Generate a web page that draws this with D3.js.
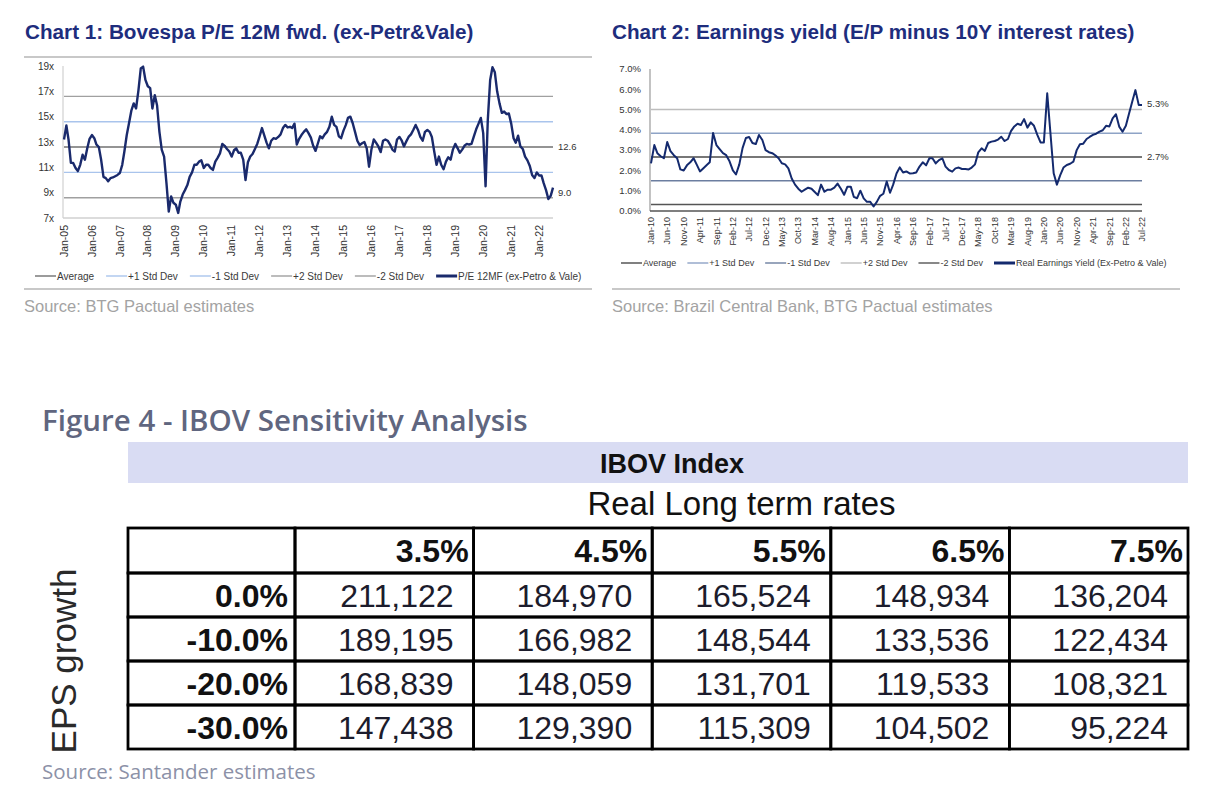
<!DOCTYPE html>
<html>
<head>
<meta charset="utf-8">
<script src="https://cdn.jsdelivr.net/npm/d3@7"></script>
<style>
  body { margin: 0; background: #fff; }
  text { font-family: Arial, "Liberation Sans", sans-serif; }
</style>
</head>
<body>
<svg id="chart" width="1230" height="800"></svg>
<script>
// ---- Chart 1: Bovespa P/E 12M fwd, monthly from Jan-05 ----
const peStart = '2005-01';
const peValues = [
  13.2, 14.3, 13.2, 11.35, 11.35, 10.95, 10.7, 11.2, 12.0, 11.6,
  12.5, 13.25, 13.55, 13.3, 12.8, 12.6, 11.6, 10.25, 10.15, 9.9,
  10.15, 10.2, 10.3, 10.4, 10.55, 11.2, 12.25, 13.55, 14.5, 15.5,
  16.05, 15.65, 17.1, 18.8, 18.95, 17.9, 17.4, 17.25, 15.65, 16.7,
  15.9, 13.8, 12.4, 11.85, 9.75, 7.5, 8.7, 8.2, 8.05, 7.4,
  8.3, 8.85, 9.2, 9.6, 10.25, 10.6, 11.2, 11.2, 11.45, 11.55,
  10.95, 11.2, 11.2, 10.95, 10.8, 11.45, 11.75, 12.1, 12.85, 12.7,
  12.45, 12.25, 11.85, 12.35, 12.5, 12.15, 12.15, 11.6, 10.0, 11.4,
  11.85, 12.05, 12.45, 12.85, 13.45, 14.1, 13.55, 12.95, 12.5, 13.1,
  13.3, 13.25, 13.4, 13.6, 14.1, 14.35, 14.15, 14.2, 14.1, 14.45,
  12.8, 13.25, 13.55, 13.8, 14.0, 13.7, 13.35, 12.7, 12.3, 12.9,
  13.45, 13.3, 13.6, 13.8, 14.2, 15.0, 14.35, 14.2, 13.45, 13.3,
  13.9, 14.35, 14.9, 15.0, 14.5, 13.8, 13.1, 12.75, 12.9, 13.0,
  12.5, 11.05, 12.4, 13.2, 12.95, 12.65, 12.2, 13.1, 13.2, 13.1,
  12.8, 12.4, 12.25, 13.2, 13.4, 13.1, 12.65, 13.05, 13.4, 13.6,
  13.95, 14.35, 13.95, 13.4, 13.1, 13.8, 13.95, 13.8, 13.4, 12.25,
  11.2, 11.85, 11.2, 10.85, 11.45, 11.8, 11.6, 12.4, 12.85, 12.5,
  12.15, 12.4, 12.7, 12.85, 12.8, 12.85, 13.45, 14.0, 14.45, 14.9,
  13.7, 9.5, 14.75, 17.9, 18.9, 18.5, 17.0, 16.05, 15.3, 15.4,
  15.2, 15.25, 14.45, 13.3, 12.95, 13.5, 12.65, 12.45, 11.85, 11.55,
  11.1, 10.4, 10.15, 10.6, 10.35, 10.35, 9.75, 9.2, 8.5, 8.75,
  9.4
];
const peAvg = 12.6;
const peStd = 2.0;
const peTicks = [7, 9, 11, 13, 15, 17, 19];
const peXLabels = ['Jan-05', 'Jan-06', 'Jan-07', 'Jan-08', 'Jan-09', 'Jan-10', 'Jan-11', 'Jan-12',
  'Jan-13', 'Jan-14', 'Jan-15', 'Jan-16', 'Jan-17', 'Jan-18', 'Jan-19', 'Jan-20', 'Jan-21', 'Jan-22'];
const peEndLabels = [['12.6', 12.6], ['9.0', 9.0]];
const peLegend = ['Average', '+1 Std Dev', '-1 Std Dev', '+2 Std Dev', '-2 Std Dev', 'P/E 12MF (ex-Petro & Vale)'];

// ---- Chart 2: real earnings yield, monthly from Jan-10 ----
const eyStart = '2010-01';
const eyValues = [
  2.35, 3.25, 2.85, 2.7, 2.6, 3.4, 2.95, 2.75, 2.6, 2.05,
  2.0, 2.25, 2.4, 2.6, 2.3, 1.95, 2.1, 2.25, 2.4, 3.85,
  3.25, 3.05, 2.85, 2.75, 2.45, 2.0, 1.8, 2.3, 3.1, 3.6,
  3.65, 3.35, 3.3, 3.75, 3.5, 3.0, 2.9, 2.85, 2.75, 2.6,
  2.35, 2.3, 2.1, 1.6, 1.3, 1.1, 0.95, 1.05, 1.15, 1.1,
  0.95, 0.78, 1.3, 0.95, 1.05, 1.05, 1.15, 1.35, 1.1, 0.8,
  1.2, 1.2, 0.7, 0.63, 1.0, 0.62, 0.45, 0.45, 0.22, 0.45,
  0.75, 0.85, 1.45, 0.9, 1.3, 1.85, 2.15, 1.9, 1.95, 1.85,
  1.86, 1.9, 2.19, 2.4, 2.25, 2.6, 2.6, 2.35, 2.51, 2.6,
  2.19, 2.02, 1.94, 2.1, 2.14, 2.07, 2.07, 2.05, 2.14, 2.3,
  2.89, 3.09, 2.96, 3.35, 3.42, 3.45, 3.52, 3.66, 3.45, 3.55,
  3.94, 4.17, 4.3, 4.24, 4.53, 4.11, 4.37, 4.2, 3.75, 3.38,
  3.38, 5.8, 3.9, 1.86, 1.3, 1.77, 2.14, 2.27, 2.33, 2.43,
  3.0, 3.29, 3.32, 3.55, 3.65, 3.75, 3.81, 3.91, 3.98, 4.2,
  4.17, 4.57, 4.77, 4.16, 3.91, 4.2, 4.77, 5.39, 5.96, 5.22,
  5.22
];
const eyAvg = 2.66;
const eyStd = 1.17;
const eyTicks = [0, 1, 2, 3, 4, 5, 6, 7];
const eyXLabels = ['Jan-10', 'Jun-10', 'Nov-10', 'Apr-11', 'Sep-11', 'Feb-12', 'Jul-12', 'Dec-12',
  'May-13', 'Oct-13', 'Mar-14', 'Aug-14', 'Jan-15', 'Jun-15', 'Nov-15', 'Apr-16', 'Sep-16', 'Feb-17',
  'Jul-17', 'Dec-17', 'May-18', 'Oct-18', 'Mar-19', 'Aug-19', 'Jan-20', 'Jun-20', 'Nov-20', 'Apr-21',
  'Sep-21', 'Feb-22', 'Jul-22'];
const eyEndLabels = [['5.3%', 5.3], ['2.7%', 2.66]];
const eyLegend = ['Average', '+1 Std Dev', '-1 Std Dev', '+2 Std Dev', '-2 Std Dev', 'Real Earnings Yield (Ex-Petro & Vale)'];

// ---- Figure 4: IBOV sensitivity table ----
const rateCols = ['3.5%', '4.5%', '5.5%', '6.5%', '7.5%'];
const epsRows = ['0.0%', '-10.0%', '-20.0%', '-30.0%'];
const ibovValues = [
  [211122, 184970, 165524, 148934, 136204],
  [189195, 166982, 148544, 133536, 122434],
  [168839, 148059, 131701, 119533, 108321],
  [147438, 129390, 115309, 104502, 95224]
];

const svg = d3.select('#chart');
const parseMonth = d3.timeParse('%Y-%m');
const parseLabel = d3.timeParse('%b-%y');
const navy = '#1e2d7d';

function monthly(start, values) {
  const d0 = parseMonth(start);
  return values.map((v, i) => ({ date: d3.timeMonth.offset(d0, i), v: v }));
}

function legend(g, items, x0, y, fs, gap) {
  let x = x0;
  items.forEach(it => {
    g.append('line')
      .attr('x1', x).attr('x2', x + 21).attr('y1', y).attr('y2', y)
      .attr('stroke', it.color).attr('stroke-width', it.w);
    const t = g.append('text')
      .attr('x', x + 22).attr('y', y).attr('dy', '0.35em')
      .style('font-size', fs + 'px').style('fill', '#3a3a3a')
      .text(it.label);
    x += 22 + t.node().getComputedTextLength() + gap;
  });
}

function lineChart(o) {
  const g = svg.append('g');
  const data = monthly(o.start, o.values);
  const x = d3.scaleTime().domain(d3.extent(data, d => d.date)).range(o.xr);
  const y = d3.scaleLinear().domain(o.yd).range(o.yr);

  g.append('text')
    .attr('x', o.titleX).attr('y', 39)
    .style('font-size', '20.7px').style('font-weight', 'bold').style('fill', navy)
    .text(o.title);

  // axis lines
  g.append('line')
    .attr('x1', o.xr[0] - 1).attr('x2', o.xr[0] - 1)
    .attr('y1', y(o.yd[1])).attr('y2', y(o.yd[0]))
    .attr('stroke', o.axisColor).attr('stroke-width', 1.2);
  g.append('line')
    .attr('x1', o.xr[0] - 1).attr('x2', o.xr[1])
    .attr('y1', y(o.yd[0])).attr('y2', y(o.yd[0]))
    .attr('stroke', o.baseColor).attr('stroke-width', 1.4);

  // y ticks
  g.selectAll('.yt').data(o.ticks).join('text')
    .attr('x', o.xr[0] - 10).attr('y', d => y(d)).attr('dy', '0.35em')
    .attr('text-anchor', 'end')
    .style('font-size', o.tickFs + 'px').style('fill', '#333')
    .text(o.tickFmt);

  // average and std dev bands
  const bands = [
    { v: o.avg + 2 * o.std, c: o.colors.p2 },
    { v: o.avg + o.std, c: o.colors.p1 },
    { v: o.avg, c: o.colors.avg },
    { v: o.avg - o.std, c: o.colors.m1 },
    { v: o.avg - 2 * o.std, c: o.colors.m2 }
  ];
  g.selectAll('.band').data(bands).join('line')
    .attr('x1', o.xr[0]).attr('x2', o.xr[1])
    .attr('y1', d => y(d.v)).attr('y2', d => y(d.v))
    .attr('stroke', d => d.c).attr('stroke-width', 1.4);

  // x labels
  g.selectAll('.xl').data(o.xLabels).join('text')
    .attr('transform', d => `translate(${x(parseLabel(d))},${o.xLabelTop}) rotate(-90)`)
    .attr('dy', '0.35em').attr('text-anchor', 'end')
    .style('font-size', o.xFs + 'px').style('fill', '#333')
    .text(d => d);

  // series
  g.append('path').datum(data)
    .attr('fill', 'none').attr('stroke', o.lineColor)
    .attr('stroke-width', o.lineW).attr('stroke-linejoin', 'round')
    .attr('d', d3.line().x(d => x(d.date)).y(d => y(d.v)));

  // end labels
  g.selectAll('.el').data(o.endLabels).join('text')
    .attr('x', o.xr[1] + 5).attr('y', d => y(d[1])).attr('dy', '0.35em')
    .style('font-size', '9.5px').style('fill', '#333')
    .text(d => d[0]);

  legend(g, [
    { label: o.legend[0], color: o.colors.avg, w: 1.4 },
    { label: o.legend[1], color: o.colors.p1, w: 1.4 },
    { label: o.legend[2], color: o.colors.m1, w: 1.4 },
    { label: o.legend[3], color: o.colors.p2, w: 1.4 },
    { label: o.legend[4], color: o.colors.m2, w: 1.4 },
    { label: o.legend[5], color: o.lineColor, w: 3 }
  ], o.legendX, o.legendY, o.legendFs, o.legendGap);

  g.append('line')
    .attr('x1', o.ruleX[0]).attr('x2', o.ruleX[1]).attr('y1', 289).attr('y2', 289)
    .attr('stroke', '#c8c8c8').attr('stroke-width', 2);
  g.append('text')
    .attr('x', o.ruleX[0]).attr('y', 312)
    .style('font-size', '16.5px').style('fill', '#a3a3a3')
    .text(o.source);
}

lineChart({
  title: 'Chart 1: Bovespa P/E 12M fwd. (ex-Petr&Vale)', titleX: 25,
  start: peStart, values: peValues, avg: peAvg, std: peStd,
  xr: [64, 553], yd: [7, 19], yr: [218, 66],
  ticks: peTicks, tickFmt: d => d + 'x', tickFs: 10,
  xLabels: peXLabels, xLabelTop: 225, xFs: 10.5,
  axisColor: '#d0d0d0', baseColor: '#d0d0d0',
  colors: { avg: '#707070', p1: '#a9c4ec', m1: '#a9c4ec', p2: '#a0a0a0', m2: '#a0a0a0' },
  lineColor: '#1a2a6c', lineW: 2.4,
  endLabels: peEndLabels,
  legend: peLegend, legendX: 35, legendY: 276, legendFs: 10, legendGap: 12,
  ruleX: [24, 592], source: 'Source: BTG Pactual estimates'
});

lineChart({
  title: 'Chart 2: Earnings yield (E/P minus 10Y interest rates)', titleX: 612,
  start: eyStart, values: eyValues, avg: eyAvg, std: eyStd,
  xr: [651, 1142], yd: [0, 7], yr: [211, 69],
  ticks: eyTicks, tickFmt: d => d.toFixed(1) + '%', tickFs: 9.5,
  xLabels: eyXLabels, xLabelTop: 217, xFs: 9,
  axisColor: '#9a9a9a', baseColor: '#555',
  colors: { avg: '#4a4a4a', p1: '#8ea3c6', m1: '#6c7ea0', p2: '#bdbdbd', m2: '#555' },
  lineColor: '#142a6e', lineW: 2,
  endLabels: eyEndLabels,
  legend: eyLegend, legendX: 621, legendY: 263, legendFs: 9, legendGap: 11,
  ruleX: [612, 1180], source: 'Source: Brazil Central Bank, BTG Pactual estimates'
});

// top rule under chart 1 title
svg.append('line')
  .attr('x1', 24).attr('x2', 592).attr('y1', 57).attr('y2', 57)
  .attr('stroke', '#c8c8c8').attr('stroke-width', 2);

// ---- table ----
const tg = svg.append('g');
tg.append('text')
  .attr('x', 42).attr('y', 431)
  .style('font-family', '"Open Sans", sans-serif').style('font-weight', 600)
  .style('font-size', '29.5px').style('fill', '#60667f')
  .text('Figure 4 - IBOV Sensitivity Analysis');

tg.append('rect')
  .attr('x', 128).attr('y', 442).attr('width', 1060).attr('height', 41)
  .attr('fill', '#d9dcf3');
tg.append('text')
  .attr('x', 672).attr('y', 473).attr('text-anchor', 'middle')
  .style('font-size', '27px').style('font-weight', 'bold').style('fill', '#111')
  .text('IBOV Index');

const tableLeft = 128, firstCol = 295, tableRight = 1188;
const colX = d3.scaleBand().domain(rateCols).range([firstCol, tableRight]);
const rowY = d3.scaleBand().domain(epsRows).range([573, 749]);
const headTop = 528;

tg.append('text')
  .attr('x', (firstCol + tableRight) / 2).attr('y', 515).attr('text-anchor', 'middle')
  .style('font-size', '33px').style('fill', '#111')
  .text('Real Long term rates');

tg.append('text')
  .attr('transform', `translate(76,${(rowY.range()[0] + rowY.range()[1]) / 2}) rotate(-90)`)
  .attr('text-anchor', 'middle')
  .style('font-size', '35px').style('fill', '#2a2a2a')
  .text('EPS growth');

const cellStroke = { stroke: '#000', 'stroke-width': 2.8, fill: 'none' };
function cell(x, y, w, h) {
  const r = tg.append('rect').attr('x', x).attr('y', y).attr('width', w).attr('height', h);
  Object.entries(cellStroke).forEach(([k, v]) => r.attr(k, v));
}

// header row
cell(tableLeft, headTop, firstCol - tableLeft, rowY.range()[0] - headTop);
rateCols.forEach(c => {
  cell(colX(c), headTop, colX.bandwidth(), rowY.range()[0] - headTop);
  tg.append('text')
    .attr('x', colX(c) + colX.bandwidth() - 5).attr('y', rowY.range()[0] - 11)
    .attr('text-anchor', 'end')
    .style('font-size', '32px').style('font-weight', 'bold').style('fill', '#111')
    .text(c);
});

const fmt = d3.format(',');
epsRows.forEach((r, i) => {
  cell(tableLeft, rowY(r), firstCol - tableLeft, rowY.bandwidth());
  tg.append('text')
    .attr('x', firstCol - 7).attr('y', rowY(r) + rowY.bandwidth() / 2 + 11.5)
    .attr('text-anchor', 'end')
    .style('font-size', '32px').style('font-weight', 'bold').style('fill', '#111')
    .text(r);
  rateCols.forEach((c, j) => {
    cell(colX(c), rowY(r), colX.bandwidth(), rowY.bandwidth());
    tg.append('text')
      .attr('x', colX(c) + colX.bandwidth() - 20).attr('y', rowY(r) + rowY.bandwidth() / 2 + 11.5)
      .attr('text-anchor', 'end')
      .style('font-size', '32px').style('fill', '#1c1c2c')
      .text(fmt(ibovValues[i][j]));
  });
});

tg.append('text')
  .attr('x', 42).attr('y', 779)
  .style('font-family', '"Open Sans", sans-serif')
  .style('font-size', '20.5px').style('fill', '#8c91a7')
  .text('Source: Santander estimates');
</script>
</body>
</html>
